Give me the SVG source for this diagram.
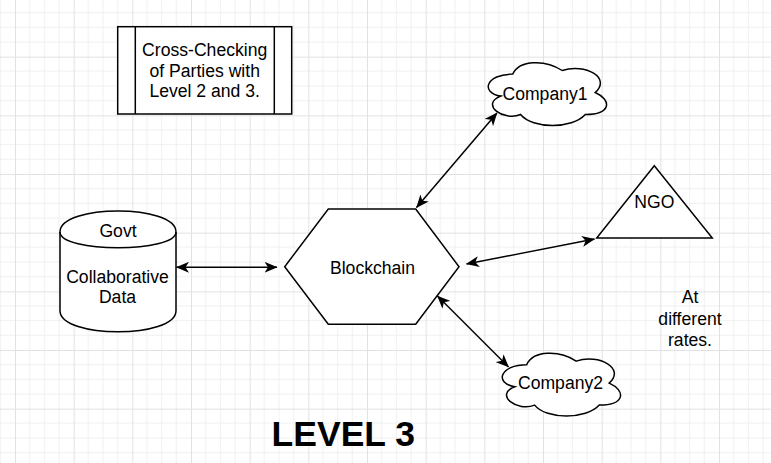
<svg xmlns="http://www.w3.org/2000/svg" width="771" height="463" viewBox="0 0 771 463">
<style>
.shape{fill:#ffffff;stroke:#000000;stroke-width:1.5;}
.t{font-family:"Liberation Sans",Arial,sans-serif;font-size:17.6px;fill:#000000;text-anchor:middle;}
.edge{fill:none;stroke:#000000;stroke-width:1.5;marker-start:url(#arr);marker-end:url(#arr);}
.title{font-family:"Liberation Sans",Arial,sans-serif;font-size:35.5px;font-weight:bold;fill:#000000;text-anchor:middle;}
</style>
<defs>
<pattern id="grid" patternUnits="userSpaceOnUse" x="15" y="-2" width="58.667" height="58.667">
<path d="M14.667 0V58.667M29.333 0V58.667M44 0V58.667M0 14.667H58.667M0 29.333H58.667M0 44H58.667" stroke="#f0f0f0" stroke-width="1" fill="none"/>
<path d="M0.5 0V58.667M0 0.5H58.667" stroke="#e2e2e2" stroke-width="1" fill="none"/>
</pattern>
<marker id="arr" markerUnits="userSpaceOnUse" viewBox="0 0 13 11" refX="12.5" refY="5.5" markerWidth="13" markerHeight="11" orient="auto-start-reverse">
<path d="M0 0L13 5.5L0 11L3.5 5.5Z" fill="#000000"/>
</marker>
</defs>
<rect width="771" height="463" fill="#ffffff"/>
<rect width="771" height="463" fill="url(#grid)"/>

<g id="connectors">
<line class="edge" x1="176.5" y1="267.3" x2="277" y2="267.3"/>
<line class="edge" x1="416.5" y1="207.5" x2="497" y2="113"/>
<line class="edge" x1="466.5" y1="264" x2="594.5" y2="239"/>
<line class="edge" x1="437.5" y1="296" x2="508.5" y2="367"/>
</g>

<g id="note">
<rect class="shape" x="117.7" y="26.7" width="174" height="87.3"/>
<line class="shape" x1="135.3" y1="26.7" x2="135.3" y2="114"/>
<line class="shape" x1="274.3" y1="26.7" x2="274.3" y2="114"/>
<text class="t" x="204.7" y="55.7">Cross-Checking</text>
<text class="t" x="204.7" y="76.5">of Parties with</text>
<text class="t" x="204.7" y="97.3">Level 2 and 3.</text>
</g>

<g id="govt">
<path class="shape" d="M60 232C60 204 176 204 176 232L176 310.7C176 338.7 60 338.7 60 310.7Z"/>
<path class="shape" fill="none" d="M60 232C60 253 176 253 176 232" style="fill:none"/>
<text class="t" x="118" y="236.7">Govt</text>
<text class="t" x="117.5" y="282.7">Collaborative</text>
<text class="t" x="117.5" y="303">Data</text>
</g>

<g id="blockchain">
<polygon class="shape" points="328.3,209 415.7,209 459,266.7 415.7,324.3 328.3,324.3 284.7,266.7"/>
<text class="t" x="372.5" y="274">Blockchain</text>
</g>

<g id="company1" transform="translate(479.7,55.8)">
<path class="shape" d="M33 18.3C6.6 18.3 0 36.7 21.1 40.3C0 48.4 23.8 66 40.9 58.7C52.8 73.3 92.4 73.3 105.6 58.7C132 58.7 132 44 115.5 36.7C132 22 105.6 7.3 82.5 14.7C66 3.7 39.6 3.7 33 18.3Z"/>
<text class="t" x="65.3" y="44.2">Company1</text>
</g>

<g id="ngo">
<polygon class="shape" points="654.3,165.7 712.3,238 596.7,238"/>
<text class="t" x="654.3" y="208.3">NGO</text>
</g>

<g id="company2" transform="translate(493.7,346.4)">
<path class="shape" d="M33 18.3C6.6 18.3 0 36.7 21.1 40.3C0 48.4 23.8 66 40.9 58.7C52.8 73.3 92.4 73.3 105.6 58.7C132 58.7 132 44 115.5 36.7C132 22 105.6 7.3 82.5 14.7C66 3.7 39.6 3.7 33 18.3Z"/>
<text class="t" x="66.8" y="42.9">Company2</text>
</g>

<g id="rates-label">
<text class="t" x="690" y="303.3">At</text>
<text class="t" x="690" y="324.5">different</text>
<text class="t" x="690" y="345.5">rates.</text>
</g>

<g id="level-title">
<text class="title" x="343.3" y="445.7">LEVEL 3</text>
</g>
</svg>
